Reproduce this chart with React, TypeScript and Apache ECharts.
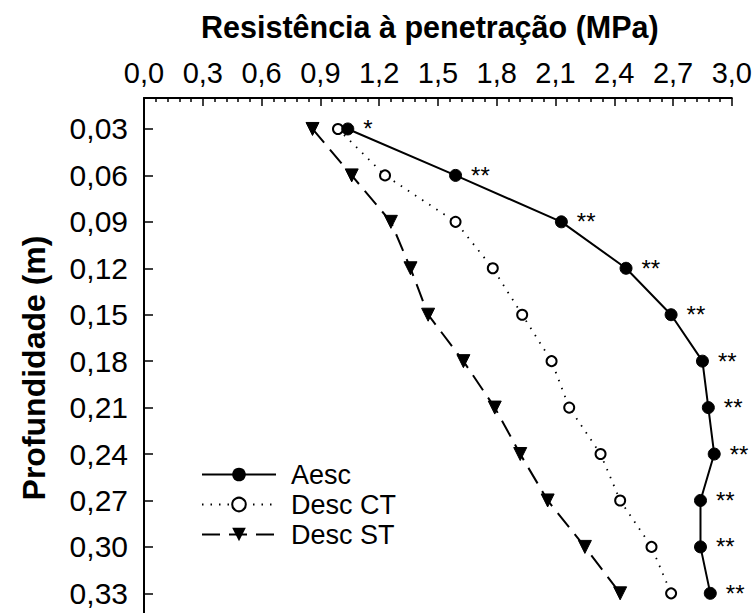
import React, { useEffect, useRef } from "react";
import * as echarts from "echarts";

const depths = [0.03, 0.06, 0.09, 0.12, 0.15, 0.18, 0.21, 0.24, 0.27, 0.3, 0.33];
const aesc = [1.04, 1.59, 2.13, 2.46, 2.69, 2.85, 2.88, 2.91, 2.84, 2.84, 2.89];
const descCT = [0.99, 1.23, 1.59, 1.78, 1.93, 2.08, 2.17, 2.33, 2.43, 2.59, 2.69];
const descST = [0.86, 1.06, 1.26, 1.36, 1.45, 1.63, 1.79, 1.92, 2.06, 2.25, 2.43];
const signif = ["*", "**", "**", "**", "**", "**", "**", "**", "**", "**", "**"];
const seriesNames = ["Aesc", "Desc CT", "Desc ST"];
const xTitle = "Resistência à penetração (MPa)";
const yTitle = "Profundidade (m)";

const FONT = "Liberation Sans, Arial, sans-serif";

export default function App() {
  const ref = useRef<HTMLDivElement>(null);
  useEffect(() => {
    if (!ref.current) return;
    const chart = echarts.init(ref.current, null, { renderer: "svg" });
    const pairs = (vals: number[]) => vals.map((v, i) => [v, depths[i]]);
    chart.setOption({
      animation: false,
      backgroundColor: "#ffffff",
      textStyle: { fontFamily: FONT, color: "#000" },
      title: {
        text: xTitle,
        left: 196,
        top: 6,
        textStyle: { fontFamily: FONT, fontSize: 30.5, fontWeight: "bold", color: "#000" },
      },
      legend: {
        orient: "vertical",
        left: 196,
        top: 456,
        itemWidth: 74,
        itemHeight: 17,
        itemGap: 3,
        data: seriesNames,
        textStyle: { fontFamily: FONT, fontSize: 27, color: "#000", padding: [0, 0, 0, 10] },
      },
      grid: { left: 144, top: 98, right: 23, bottom: 0, containLabel: false },
      xAxis: {
        type: "value",
        position: "top",
        min: 0,
        max: 3,
        interval: 0.3,
        axisLine: { show: true, lineStyle: { color: "#000", width: 2 } },
        axisTick: { show: true, inside: true, length: 8, lineStyle: { color: "#000", width: 1.5 } },
        minorTick: { show: true, splitNumber: 5, length: 4, lineStyle: { color: "#000", width: 1.5 } },
        splitLine: { show: false },
        axisLabel: {
          margin: 11,
          fontFamily: FONT,
          fontSize: 29,
          color: "#000",
          formatter: (v: number) => v.toFixed(1).replace(".", ","),
        },
      },
      yAxis: {
        type: "value",
        inverse: true,
        min: 0.01,
        max: 0.3427,
        name: yTitle,
        nameLocation: "middle",
        nameGap: 94,
        nameTextStyle: { fontFamily: FONT, fontSize: 32, fontWeight: "bold", color: "#000", padding: [0, 25, 0, 0] },
        axisLine: { show: true, lineStyle: { color: "#000", width: 2 } },
        axisTick: {
          show: true,
          inside: true,
          length: 9,
          customValues: depths,
          lineStyle: { color: "#000", width: 1.5 },
        },
        splitLine: { show: false },
        axisLabel: {
          margin: 16,
          fontFamily: FONT,
          fontSize: 30,
          color: "#000",
          customValues: depths,
          formatter: (v: number) => v.toFixed(2).replace(".", ","),
        },
      },
      series: [
        {
          name: seriesNames[0],
          type: "line",
          data: pairs(aesc),
          symbol: "circle",
          symbolSize: 12,
          lineStyle: { color: "#000", width: 2, type: "solid" },
          itemStyle: { color: "#000", borderColor: "#000" },
          label: {
            show: true,
            position: "right",
            distance: 9,
            fontFamily: FONT,
            fontSize: 24,
            color: "#000",
            formatter: (p: any) => signif[p.dataIndex],
          },
          z: 3,
        },
        {
          name: seriesNames[1],
          type: "line",
          data: pairs(descCT),
          symbol: "circle",
          symbolSize: 10,
          lineStyle: { color: "#000", width: 1.8, type: [1.5, 7] },
          itemStyle: { color: "#fff", borderColor: "#000", borderWidth: 2 },
          z: 2,
        },
        {
          name: seriesNames[2],
          type: "line",
          data: pairs(descST),
          symbol: "triangle",
          symbolRotate: 180,
          symbolSize: 13,
          lineStyle: { color: "#000", width: 2, type: [18, 9] },
          itemStyle: { color: "#000", borderColor: "#000" },
          z: 2,
        },
      ],
    });
    return () => chart.dispose();
  }, []);
  return (
    <div
      ref={ref}
      style={{ position: "absolute", left: 0, top: 0, width: 755, height: 613 }}
    />
  );
}
